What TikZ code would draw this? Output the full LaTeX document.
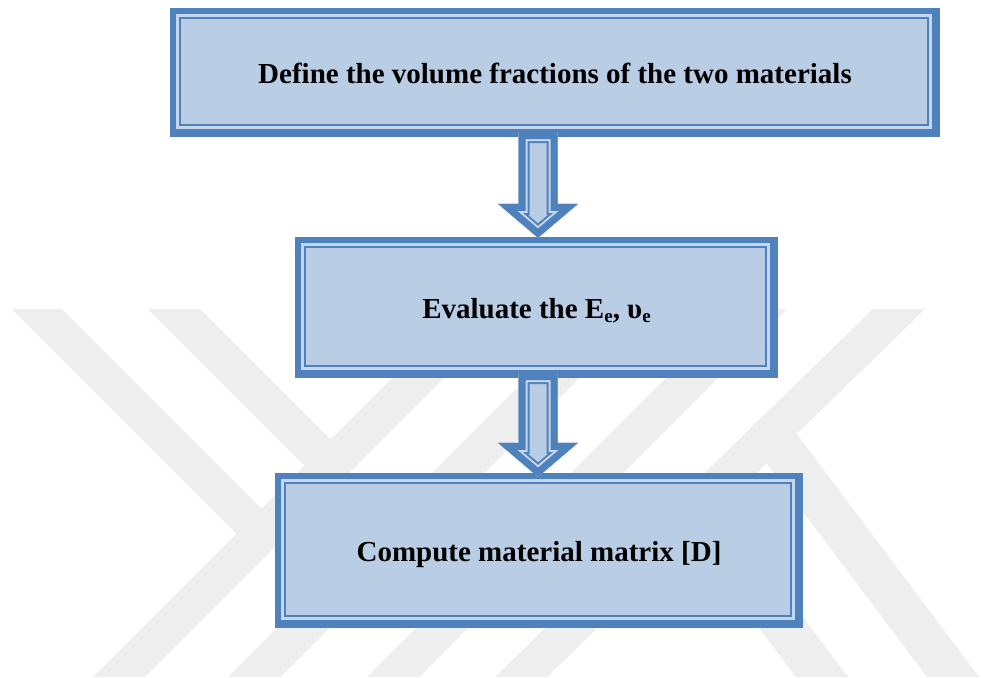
\documentclass[tikz,border=0pt]{standalone}
\usepackage{fontspec}
\setmainfont{Liberation Serif}
\usetikzlibrary{calc}

\definecolor{boxdark}{HTML}{4F81BD}
\definecolor{boxlight}{HTML}{C5D7EE}
\definecolor{boxfill}{HTML}{B9CDE5}
\definecolor{wmgray}{HTML}{EEEEEE}

\tikzset{
  layered/.style={
    draw=none, inner sep=0pt,
    text height=21pt, text depth=0pt,
    font=\bfseries\fontsize{29}{34}\selectfont,
    path picture={
      \fill[boxdark] (path picture bounding box.south west) rectangle (path picture bounding box.north east);
      \fill[boxlight] ($(path picture bounding box.north west)+(6.3pt,-6.3pt)$) rectangle ($(path picture bounding box.south east)+(-8.3pt,8.3pt)$);
      \fill[boxdark] ($(path picture bounding box.north west)+(8.6pt,-8.6pt)$) rectangle ($(path picture bounding box.south east)+(-11pt,11pt)$);
      \fill[boxfill] ($(path picture bounding box.north west)+(10.8pt,-10.8pt)$) rectangle ($(path picture bounding box.south east)+(-12.8pt,12.8pt)$);
    }
  },
  wm/.style={fill=wmgray, draw=none}
}

% outline of a block arrow: #1 = top of the shaft, #2 = tip
\newcommand\arrowoutline[2]{($(#1)+(-19.5,0)$) -- ($(#1)+(19.5,0)$) -- ($(#2)+(19.5,-34)$) -- ($(#2)+(40,-34)$) -- (#2) -- ($(#2)+(-40,-34)$) -- ($(#2)+(-19.5,-34)$) -- cycle}

\newcommand\blockarrow[2]{%
  \begin{scope}
    \clip \arrowoutline{#1}{#2};
    \fill[boxfill] \arrowoutline{#1}{#2};
    \draw[boxdark, line width=22pt, line join=miter, miter limit=20] \arrowoutline{#1}{#2};
    \draw[boxlight, line width=18pt, line join=miter, miter limit=20] \arrowoutline{#1}{#2};
    \draw[boxdark, line width=14pt, line join=miter, miter limit=20] \arrowoutline{#1}{#2};
  \end{scope}}

\begin{document}
\begin{tikzpicture}[x=1pt, y=-1pt]
  \useasboundingbox (0,0) rectangle (981,677);
  \fill[white] (0,0) rectangle (981,677);

  % faint background emblem
  \fill[wm] (12,309) -- (62,309) -- (274.5,521.5) -- (249.5,546.5) -- cycle;
  \fill[wm] (148,309) -- (200,309) -- (343.5,452.5) -- (317.5,478.5) -- cycle;
  \fill[wm] (93,677) -- (145,677) -- (513,309) -- (461,309) -- cycle;
  \fill[wm] (228,677) -- (280,677) -- (648,309) -- (596,309) -- cycle;
  \fill[wm] (367,677) -- (419,677) -- (787,309) -- (735,309) -- cycle;
  \fill[wm] (495,677) -- (547,677) -- (925,309) -- (873,309) -- cycle;
  \fill[wm] (927,677) -- (979,677) -- (785.7,419.3) -- (755.6,448.5) -- cycle;
  \fill[wm] (796,677) -- (848,677) -- (760,560) -- (708,560) -- cycle;

  % process steps
  \node[layered, minimum width=770pt, minimum height=129pt] (define) at (555,72.5)
    {Define the volume fractions of the two materials};
  \node[layered, minimum width=483pt, minimum height=141pt] (evaluate) at (536.5,307.5)
    {Evaluate the E{\fontsize{19}{19}\selectfont\raisebox{-4pt}{e}}, υ{\fontsize{19}{19}\selectfont\raisebox{-4pt}{e}}};
  \node[layered, minimum width=528pt, minimum height=155pt] (compute) at (539,550.5)
    {Compute material matrix [D]};

  % connectors
  \coordinate (axis) at ($(evaluate.north)+(1.5,0)$);
  \coordinate (a1top) at ($(axis |- define.south)+(0,-5)$);
  \coordinate (a1tip) at ($(axis)+(0,1)$);
  \coordinate (a2top) at ($(axis |- evaluate.south)+(0,-5)$);
  \coordinate (a2tip) at ($(axis |- compute.north)+(0,4)$);
  \blockarrow{a1top}{a1tip}
  \blockarrow{a2top}{a2tip}
\end{tikzpicture}
\end{document}
